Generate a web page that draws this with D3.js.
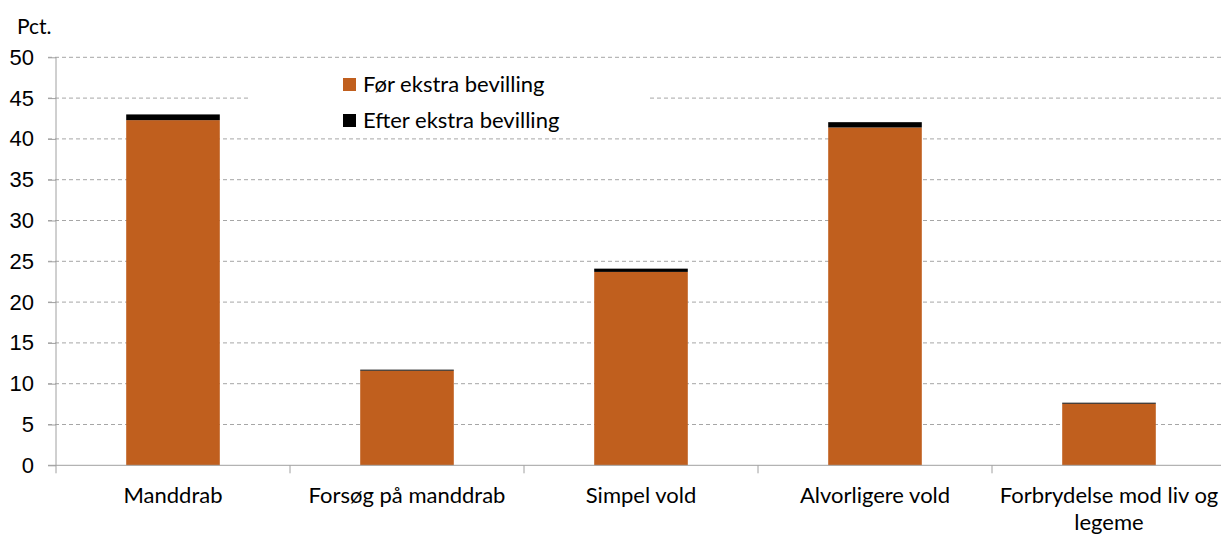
<!DOCTYPE html>
<meta charset="utf-8">
<style>
  body { margin: 0; background: #fff; }
  svg { font-family: Lato, sans-serif; }
  .grid line { stroke: #a6a6a6; stroke-dasharray: 4,3; }
  .axis path, .axis line { stroke: #a0a0a0; }
  text { fill: #000; }
</style>
<svg width="1221" height="536"></svg>
<script src="https://d3js.org/d3.v7.min.js"></script>
<script>
  var categories = ["Manddrab", "Forsøg på manddrab", "Simpel vold", "Alvorligere vold", "Forbrydelse mod liv og legeme"];
  var labelLines = [["Manddrab"], ["Forsøg på manddrab"], ["Simpel vold"], ["Alvorligere vold"], ["Forbrydelse mod liv og", "legeme"]];
  var before = [42.3, 11.6, 23.7, 41.4, 7.55];
  var after = [0.7, 0.12, 0.4, 0.65, 0.12];
  var seriesNames = ["Før ekstra bevilling", "Efter ekstra bevilling"];
  var seriesColors = ["#c05f1e", "#000000"];
  var yTicks = [0, 5, 10, 15, 20, 25, 30, 35, 40, 45, 50];

  var svg = d3.select("svg"),
    mLeft = 56, mRight = 1226, mTop = 57.3, mBottom = 465.3;

  var x = d3.scaleBand().domain(categories).range([mLeft, mRight])
    .paddingInner(0.6).paddingOuter(0.3);
  var y = d3.scaleLinear().domain([0, 50]).range([mBottom, mTop]);

  // gridlines
  svg.append("g").attr("class", "grid")
    .selectAll("line").data(yTicks.filter(function(d) { return d > 0; }))
    .enter().append("line")
    .attr("x1", mLeft - 8).attr("x2", mRight)
    .attr("y1", function(d) { return y(d); })
    .attr("y2", function(d) { return y(d); });

  var data = categories.map(function(c, i) {
    return { cat: c, before: before[i], after: after[i] };
  });
  var stack = d3.stack().keys(["before", "after"])(data);

  svg.append("g").selectAll("g")
    .data(stack).enter().append("g")
    .attr("fill", function(d, i) { return seriesColors[i]; })
    .selectAll("rect").data(function(d) { return d; })
    .enter().append("rect")
    .attr("x", function(d) { return x(d.data.cat); })
    .attr("width", x.bandwidth())
    .attr("y", function(d) { return y(d[1]); })
    .attr("height", function(d) { return y(d[0]) - y(d[1]); });

  // y axis
  var yAxis = svg.append("g").attr("class", "axis")
    .attr("transform", "translate(" + mLeft + ",0)")
    .call(d3.axisLeft(y).tickValues(yTicks).tickSize(8).tickSizeOuter(0));
  yAxis.selectAll("text").style("font-size", "22px").attr("x", -22).style("text-anchor", "end");
  yAxis.select(".domain").attr("d", "M0," + mTop + "V" + mBottom);

  // x axis
  var xAxis = svg.append("g").attr("class", "axis")
    .attr("transform", "translate(0," + mBottom + ")");
  xAxis.append("line").attr("x1", mLeft - 8).attr("x2", mRight).attr("y1", 0).attr("y2", 0);
  xAxis.selectAll(".xt").data(d3.range(categories.length)).enter().append("line")
    .attr("x1", function(i) { return x(categories[i]) - x.step() * 0.3; })
    .attr("x2", function(i) { return x(categories[i]) - x.step() * 0.3; })
    .attr("y1", 0).attr("y2", 8);
  var labels = xAxis.selectAll(".xl").data(categories).enter().append("text")
    .attr("text-anchor", "middle")
    .style("font-size", "22px")
    .attr("transform", function(d) { return "translate(" + (x(d) + x.bandwidth() / 2) + ",38)"; });
  labels.selectAll("tspan").data(function(d, i) { return labelLines[i]; })
    .enter().append("tspan")
    .attr("x", 0).attr("dy", function(d, i) { return i === 0 ? 0 : 27; })
    .text(function(d) { return d; });

  svg.append("text").attr("x", 17).attr("y", 34).style("font-size", "21px").text("Pct.");

  // legend
  var legend = svg.append("g");
  legend.append("rect").attr("x", 248).attr("y", 63).attr("width", 400).attr("height", 72).attr("fill", "#fff");
  var items = legend.selectAll(".li").data(seriesNames).enter().append("g")
    .attr("transform", function(d, i) { return "translate(343," + (78 + i * 36) + ")"; });
  items.append("rect").attr("width", 13).attr("height", 13)
    .attr("fill", function(d, i) { return seriesColors[i]; });
  items.append("text").attr("x", 20).attr("y", 14).style("font-size", "22px")
    .text(function(d) { return d; });
</script>
